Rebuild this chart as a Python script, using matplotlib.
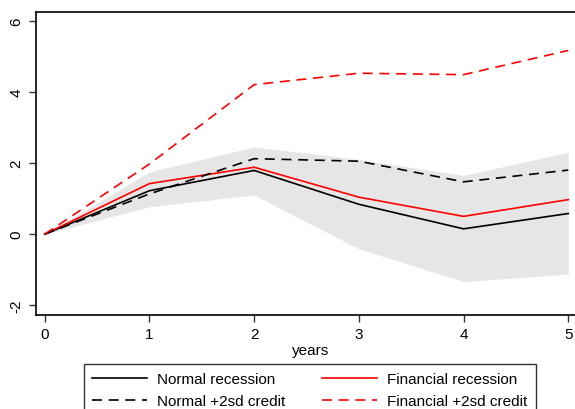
import matplotlib
matplotlib.use("Agg")
import matplotlib.pyplot as plt

plt.rcParams['font.family'] = ['Liberation Sans', 'DejaVu Sans']

years = [0, 1, 2, 3, 4, 5]
normal_recession = [0.0, 1.22, 1.79, 0.84, 0.15, 0.58]
financial_recession = [0.0, 1.42, 1.88, 1.04, 0.50, 0.97]
normal_credit = [0.0, 1.13, 2.12, 2.05, 1.47, 1.80]
financial_credit = [0.0, 1.97, 4.20, 4.52, 4.48, 5.16]
band_lower = [0.0, 0.77, 1.10, -0.41, -1.33, -1.12]
band_upper = [0.0, 1.75, 2.45, 2.10, 1.65, 2.30]

y_ticks = [-2, 0, 2, 4, 6]

W, H = 575, 410
fig = plt.figure(figsize=(W / 100, H / 100), dpi=100)
ax = fig.add_axes([36 / W, (H - 316) / H, 549 / W, 303 / H])

ax.fill_between(years, band_lower, band_upper, color='#e6e6e6', linewidth=0, zorder=1)
ax.plot(years, normal_recession, color='black', lw=1.2, label='Normal recession', zorder=3)
ax.plot(years, financial_recession, color='red', lw=1.2, label='Financial recession', zorder=3)
ax.plot(years, normal_credit, color='black', lw=1.2, ls=(0, (6, 4)), label='Normal +2sd credit', zorder=3)
ax.plot(years, financial_credit, color='red', lw=1.2, ls=(0, (6, 4)), label='Financial +2sd credit', zorder=3)

ax.set_xlim(-0.083, 5.16)
ax.set_ylim(-2.27, 6.24)
ax.set_xticks(years)
ax.set_yticks(y_ticks)
ax.set_yticklabels([str(t) for t in y_ticks], rotation=90, va='center')
ax.tick_params(axis='both', direction='out', length=5, width=1, color='#333333',
               labelsize=11, pad=4)
for s in ax.spines.values():
    s.set_linewidth(1.2)
ax.spines['right'].set_visible(False)
ax.set_xlabel('years', fontsize=11, labelpad=1)

handles, labels = ax.get_legend_handles_labels()
order = [0, 2, 1, 3]
leg = fig.legend([handles[i] for i in order], [labels[i] for i in order],
                 loc='upper left', bbox_to_anchor=(84 / W, (H - 365) / H),
                 ncol=2, fontsize=11, frameon=True, fancybox=False,
                 edgecolor='black', handlelength=3.6, handletextpad=0.65,
                 columnspacing=2.4, borderpad=0.55, labelspacing=0.5,
                 borderaxespad=0)
leg.get_frame().set_linewidth(1.0)

fig.savefig('out.png', dpi=100)
